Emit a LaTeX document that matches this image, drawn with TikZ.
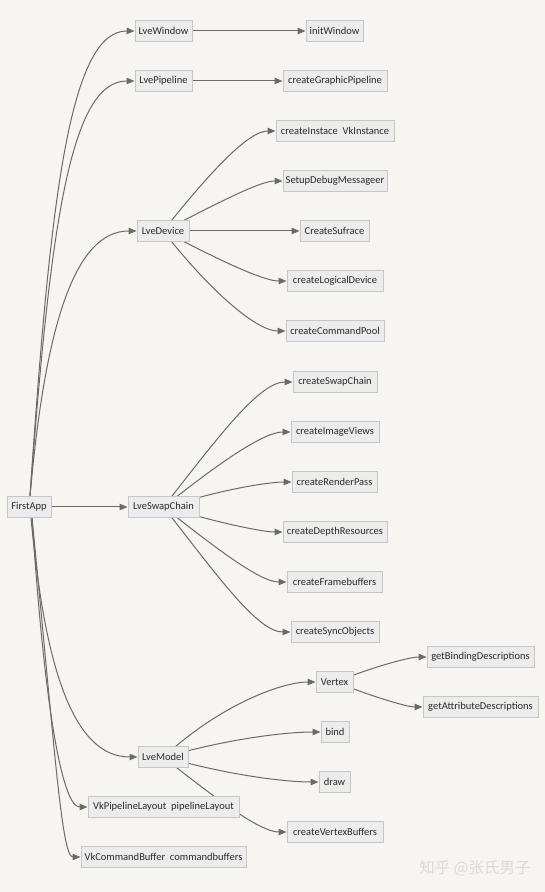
\documentclass[tikz,border=0pt]{standalone}
\usepackage{fontspec}
\setmainfont{Carlito}
\newfontfamily\cjkfont{Noto Sans CJK SC}
\usetikzlibrary{arrows.meta}
\definecolor{bgcol}{HTML}{F6F5F2}
\definecolor{boxfill}{HTML}{ECECEC}
\definecolor{boxline}{HTML}{C6C6C6}
\definecolor{edgecol}{HTML}{6A6A6A}
\definecolor{txtcol}{HTML}{2A2A2A}
\definecolor{wmcol}{HTML}{DADADA}
\pgfdeclarelayer{back}
\pgfdeclarelayer{edges}
\pgfsetlayers{back,edges,main}
\begin{document}
\begin{tikzpicture}[x=1pt,y=1pt,
  box/.style={draw=boxline, line width=1pt, fill=boxfill, minimum height=20.5pt,
    inner xsep=0pt, inner ysep=0pt, text=txtcol, font=\fontsize{10.5}{12}\selectfont, anchor=center},
  edge/.style={draw=edgecol, line width=1pt, -{Triangle[length=8pt,width=6.5pt]}},
  kid/.style={out looseness=1.2, in looseness=0.5}]
\begin{pgfonlayer}{back}
\fill[bgcol] (0,0) rectangle (545,892);
\end{pgfonlayer}
\useasboundingbox (0,0) rectangle (545,892);

% column 0
\node[box, minimum width=44pt] (fa) at (29,385) {FirstApp};
% column 1
\node[box, minimum width=57pt] (lw) at (163.5,861) {LveWindow};
\node[box, minimum width=57pt] (lp) at (163.5,811) {LvePipeline};
\node[box, minimum width=52pt] (ld) at (163,661) {LveDevice};
\node[box, minimum width=71pt] (lsc) at (163.5,385) {LveSwapChain};
\node[box, minimum width=50pt] (lm) at (163,135) {LveModel};
\node[box, minimum width=151pt] (vpl) at (163.5,85) {VkPipelineLayout\ \ pipelineLayout};
\node[box, minimum width=165pt] (vcb) at (163.5,35) {VkCommandBuffer\ \ commandbuffers};
% column 2
\node[box, minimum width=57pt] (iw) at (334.5,861) {initWindow};
\node[box, minimum width=104pt] (cgp) at (335,811) {createGraphicPipeline};
\node[box, minimum width=118pt] (ci) at (335,761) {createInstace\ \ VkInstance};
\node[box, minimum width=104pt] (sdm) at (335,711) {SetupDebugMessageer};
\node[box, minimum width=69pt] (cs) at (334.5,661) {CreateSufrace};
\node[box, minimum width=96pt] (cld) at (335,611) {createLogicalDevice};
\node[box, minimum width=98pt] (ccp) at (335,561) {createCommandPool};
\node[box, minimum width=84pt] (csc) at (335,510) {createSwapChain};
\node[box, minimum width=88pt] (civ) at (335,460) {createImageViews};
\node[box, minimum width=85pt] (crp) at (334.5,410) {createRenderPass};
\node[box, minimum width=104pt] (cdr) at (335,360) {createDepthResources};
\node[box, minimum width=95pt] (cfb) at (334.5,310) {createFramebuffers};
\node[box, minimum width=88pt] (cso) at (335,260) {createSyncObjects};
\node[box, minimum width=37pt] (vx) at (334.5,210) {Vertex};
\node[box, minimum width=28pt] (bd) at (335,160) {bind};
\node[box, minimum width=31pt] (dr) at (334.5,110) {draw};
\node[box, minimum width=96pt] (cvb) at (335,60) {createVertexBuffers};
% column 3
\node[box, minimum width=107pt] (gbd) at (480.5,235) {getBindingDescriptions};
\node[box, minimum width=115pt] (gad) at (480.5,185) {getAttributeDescriptions};

% watermark
\node[text=wmcol, font=\cjkfont\fontsize{15.5}{18}\selectfont, inner sep=0pt] (wm) at (475,24) {知乎 @张氏男子};

\begin{pgfonlayer}{edges}
% FirstApp
\draw[edge] ([xshift=1pt]fa.north) .. controls +(20,297) and +(-65,0) .. (lw.west);
\draw[edge] ([xshift=1pt]fa.north) .. controls +(20,266) and +(-65,0) .. (lp.west);
\draw[edge] ([xshift=1pt]fa.north) .. controls +(15,170) and +(-62,0) .. (ld.west);
\draw[edge] (fa) -- (lsc);
\draw[edge] ([xshift=2pt]fa.south) .. controls +(14,-154) and +(-63,0) .. (lm.west);
\draw[edge] ([xshift=3pt]fa.south) .. controls +(12,-183) and +(-26,0) .. (vpl.west);
\draw[edge] ([xshift=3pt]fa.south) .. controls +(22,-223) and +(-19,0) .. (vcb.west);
% LveWindow, LvePipeline
\draw[edge] (lw) -- (iw);
\draw[edge] (lp) -- (cgp);
% LveDevice
\draw[edge] (ld) to[out=51,in=180,kid] (ci);
\draw[edge] (ld) to[out=27,in=180,kid] (sdm);
\draw[edge] (ld) -- (cs);
\draw[edge] (ld) to[out=-27,in=180,kid] (cld);
\draw[edge] (ld) to[out=-51,in=180,kid] (ccp);
% LveSwapChain
\draw[edge] (lsc) to[out=52,in=180,kid] (csc);
\draw[edge] (lsc) to[out=38,in=180,kid] (civ);
\draw[edge] (lsc) to[out=15,in=180,kid] (crp);
\draw[edge] (lsc) to[out=-15,in=180,kid] (cdr);
\draw[edge] (lsc) to[out=-38,in=180,kid] (cfb);
\draw[edge] (lsc) to[out=-52,in=180,kid] (cso);
% LveModel
\draw[edge] (lm) to[out=40,in=180,kid] (vx);
\draw[edge] (lm) to[out=14,in=180,kid] (bd);
\draw[edge] (lm) to[out=-14,in=180,kid] (dr);
\draw[edge] (lm) to[out=-38,in=180,kid] (cvb);
% Vertex
\draw[edge] (vx) to[out=20,in=180,kid] (gbd);
\draw[edge] (vx) to[out=-20,in=180,kid] (gad);
\end{pgfonlayer}
\end{tikzpicture}
\end{document}
